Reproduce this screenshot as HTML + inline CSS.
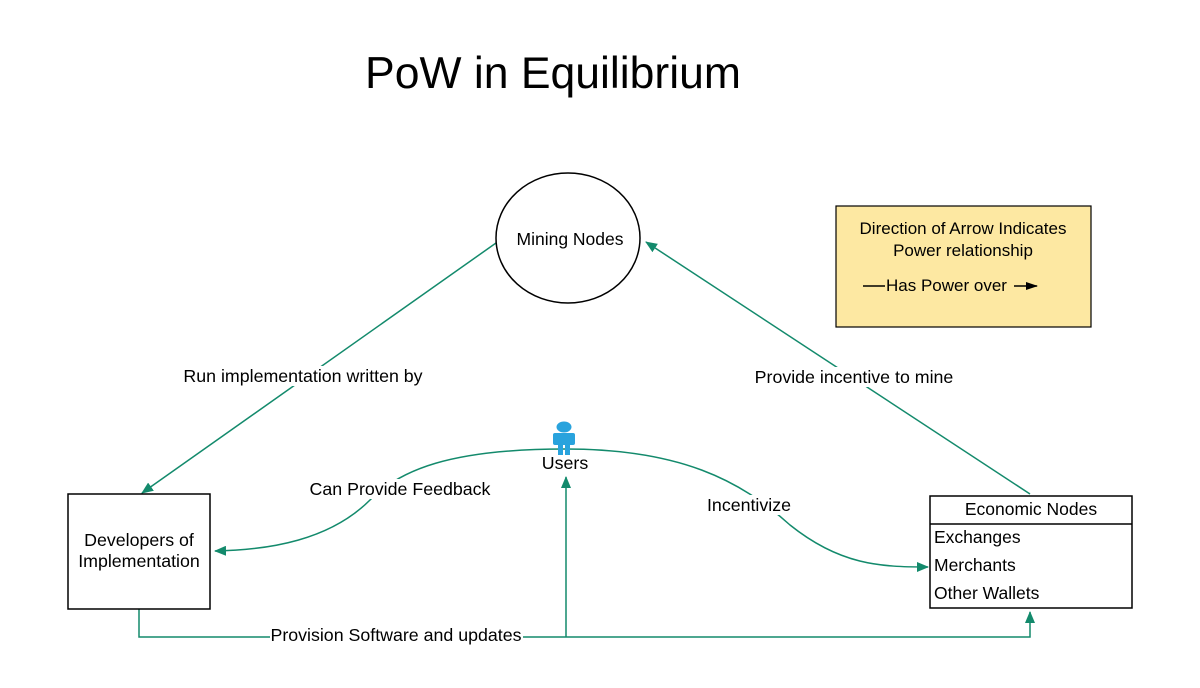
<!DOCTYPE html>
<html><head><style>
body{margin:0;background:#fff}
svg{display:block;font-family:"Liberation Sans",sans-serif}
</style></head><body>
<svg width="1200" height="688" viewBox="0 0 1200 688">
<defs>
<marker id="a" markerWidth="12" markerHeight="10" refX="11" refY="5" orient="auto" markerUnits="userSpaceOnUse">
<path d="M0,0 L12,5 L0,10 Z" fill="#138a6c"/></marker>
<marker id="b" markerWidth="12" markerHeight="8" refX="11" refY="4" orient="auto" markerUnits="userSpaceOnUse">
<path d="M0,0 L12,4 L0,8 Z" fill="#000"/></marker>
</defs>
<text x="553" y="88" font-size="44.5" text-anchor="middle">PoW in Equilibrium</text>
<g stroke="#138a6c" stroke-width="1.5" fill="none">
<line x1="496" y1="243" x2="142" y2="493" marker-end="url(#a)"/>
<line x1="1030" y1="494" x2="646" y2="242" marker-end="url(#a)"/>
<path d="M565,449 C450,449 400,470 370,500 C330,540 270,550 215,551" marker-end="url(#a)"/>
<path d="M565,449 C680,449 740,480 790,525 C840,565 880,567 928,567" marker-end="url(#a)"/>
<polyline points="139,609 139,637 1030,637 1030,612" marker-end="url(#a)"/>
<line x1="566" y1="637" x2="566" y2="477" marker-end="url(#a)"/>
</g>
<ellipse cx="568" cy="238" rx="72" ry="65" fill="#fff" stroke="#000" stroke-width="1.5"/>
<text x="570" y="245" font-size="17.5" text-anchor="middle">Mining Nodes</text>
<rect x="68" y="494" width="142" height="115" fill="#fff" stroke="#000" stroke-width="1.5"/>
<text x="139" y="546" font-size="17.8" text-anchor="middle">Developers of</text>
<text x="139" y="567" font-size="17.8" text-anchor="middle">Implementation</text>
<rect x="930" y="496" width="202" height="112" fill="#fff" stroke="#000" stroke-width="1.5"/>
<line x1="930" y1="524" x2="1132" y2="524" stroke="#000" stroke-width="1.5"/>
<text x="1031" y="515" font-size="17.5" text-anchor="middle">Economic Nodes</text>
<text x="934" y="543" font-size="17.5">Exchanges</text>
<text x="934" y="571" font-size="17.5">Merchants</text>
<text x="934" y="599" font-size="17.5">Other Wallets</text>
<rect x="836" y="206" width="255" height="121" fill="#fde8a2" stroke="#000" stroke-width="1.2"/>
<text x="963" y="234" font-size="17" text-anchor="middle">Direction of Arrow Indicates</text>
<text x="963" y="256" font-size="17" text-anchor="middle">Power relationship</text>
<line x1="863" y1="286" x2="885" y2="286" stroke="#000" stroke-width="1.5"/>
<text x="886" y="291" font-size="17">Has Power over</text>
<line x1="1014" y1="286" x2="1037" y2="286" stroke="#000" stroke-width="1.5" marker-end="url(#b)"/>
<g font-size="17.8" text-anchor="middle">
<rect x="182" y="366" width="244" height="20" fill="#fff"/>
<text x="303" y="382">Run implementation written by</text>
<rect x="752" y="367" width="204" height="20" fill="#fff"/>
<text x="854" y="383">Provide incentive to mine</text>
<rect x="308" y="479" width="186" height="20" fill="#fff"/>
<text x="400" y="495">Can Provide Feedback</text>
<rect x="706" y="495" width="86" height="20" fill="#fff"/>
<text x="749" y="511">Incentivize</text>
<rect x="270" y="626" width="253" height="20" fill="#fff"/>
<text x="396" y="641">Provision Software and updates</text>
<rect x="540" y="454" width="50" height="18" fill="#fff"/>
<text x="565" y="469">Users</text>
</g>
<g fill="#29a3dd">
<ellipse cx="564" cy="427" rx="7.5" ry="5.5"/>
<rect x="553" y="433" width="22" height="12" rx="2"/>
<rect x="558" y="444" width="5" height="11"/>
<rect x="565" y="444" width="5" height="11"/>
</g>
</svg>
</body></html>
